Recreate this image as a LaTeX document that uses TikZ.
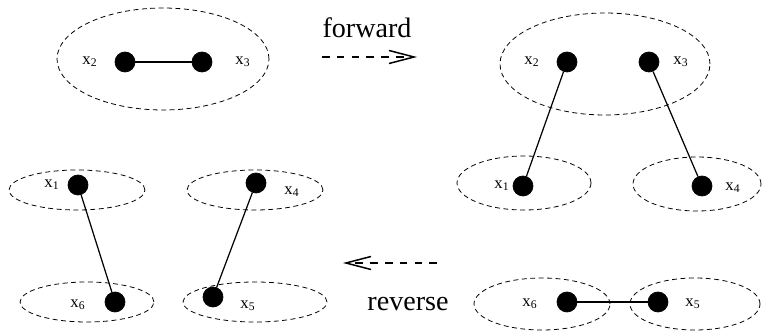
\documentclass[tikz,border=0pt]{standalone}
\usepackage{fontspec}
\setmainfont{Liberation Serif}
\usetikzlibrary{arrows.meta}
\tikzset{
  dot/.style={circle, fill=black, draw=black, inner sep=0pt, minimum size=0.4cm},
  cluster/.style={draw, line width=0.45pt, dash pattern=on 2.8pt off 2pt},
  lbl/.style={font=\fontsize{9.5}{10}\selectfont, inner sep=0pt},
  link/.style={line width=0.7pt},
  flow/.style={line width=0.85pt, dash pattern=on 4.4pt off 4pt,
    -{Straight Barb[length=5mm, width=2.6mm, line width=0.85pt]}},
  caption/.style={font=\fontsize{16}{18}\selectfont, inner sep=0pt}
}
\begin{document}
\begin{tikzpicture}[x=0.02cm, y=-0.02cm]
  \useasboundingbox (0,0) rectangle (762,334);
  % clusters
  \draw[cluster] (163,59) ellipse [x radius=2.12cm, y radius=1.02cm];
  \draw[cluster] (605,64) ellipse [x radius=2.10cm, y radius=1.02cm];
  \draw[cluster] (524,183) ellipse [x radius=1.34cm, y radius=0.54cm];
  \draw[cluster] (697,184) ellipse [x radius=1.28cm, y radius=0.54cm];
  \draw[cluster] (77,190) ellipse [x radius=1.36cm, y radius=0.40cm];
  \draw[cluster] (255,190) ellipse [x radius=1.36cm, y radius=0.40cm];
  \draw[cluster] (87,302) ellipse [x radius=1.34cm, y radius=0.40cm];
  \draw[cluster] (255,302) ellipse [x radius=1.44cm, y radius=0.40cm];
  \draw[cluster] (542,304) ellipse [x radius=1.36cm, y radius=0.52cm];
  \draw[cluster] (695,304) ellipse [x radius=1.30cm, y radius=0.52cm];

  % start graph
  \node[dot] (a2) at (125,62) {};
  \node[dot] (a3) at (202,62) {};
  \node[lbl] (la2) at (90,62) {x\textsubscript{2}};
  \node[lbl] (la3) at (243,62) {x\textsubscript{3}};
  \draw[link] (a2) -- (a3);

  % forward result
  \node[dot] (b2) at (567,62) {};
  \node[dot] (b3) at (649,62) {};
  \node[dot] (b1) at (523,186) {};
  \node[dot] (b4) at (702,186) {};
  \node[lbl] (lb2) at (532,62) {x\textsubscript{2}};
  \node[lbl] (lb3) at (681,62) {x\textsubscript{3}};
  \node[lbl] (lb1) at (502,186) {x\textsubscript{1}};
  \node[lbl] (lb4) at (733,188) {x\textsubscript{4}};
  \draw[link] (b2) -- (b1);
  \draw[link] (b3) -- (b4);

  % reverse start
  \node[dot] (c1) at (78,185) {};
  \node[dot] (c4) at (256,183) {};
  \node[dot] (c6) at (115,302) {};
  \node[dot] (c5) at (213,297) {};
  \node[lbl] (lc1) at (52,185) {x\textsubscript{1}};
  \node[lbl] (lc4) at (292,192) {x\textsubscript{4}};
  \node[lbl] (lc6) at (78,305) {x\textsubscript{6}};
  \node[lbl] (lc5) at (248,306) {x\textsubscript{5}};
  \draw[link] (c1) -- (c6);
  \draw[link] (c4) -- (c5);

  % reverse result
  \node[dot] (d6) at (567,302) {};
  \node[dot] (d5) at (658,302) {};
  \node[lbl] (ld6) at (530,304) {x\textsubscript{6}};
  \node[lbl] (ld5) at (693,304) {x\textsubscript{5}};
  \draw[link] (d6) -- (d5);

  % arrows
  \coordinate (fwdS) at (322,57);
  \coordinate (fwdE) at (417,57);
  \coordinate (revS) at (437,263);
  \coordinate (revE) at (343,263);
  \draw[flow] (fwdS) -- (fwdE);
  \draw[flow] (revS) -- (revE);
  \node[caption] (fwd) at (367,28) {forward};
  \node[caption] (rev) at (408,304) {reverse};
\end{tikzpicture}
\end{document}
